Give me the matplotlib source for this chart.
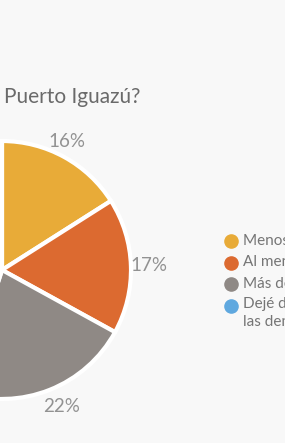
"""Recreate cropped pie chart about visits to Puerto Iguazú."""

import matplotlib.pyplot as plt

# data
categories = [
    "Menos de una vez al año",
    "Al menos una vez al año",
    "Más de una vez al año",
    "Dejé de visitarla en\nlas demás",
]
shares = [16, 17, 22, 45]
colors = ["#E8AB38", "#DC6A30", "#8F8985", "#5FA8DF"]
title = "Puerto Iguazú?"

BG = "#F8F8F8"
W, H = 285, 443

plt.rcParams["font.family"] = ["Lato", "DejaVu Sans"]

fig = plt.figure(figsize=(W / 100, H / 100), dpi=100, facecolor=BG)
ax = fig.add_axes([0, 0, 1, 1])
ax.set_facecolor(BG)

# pie, center sits on the left edge of the crop
wedges, texts, autotexts = ax.pie(
    shares,
    colors=colors,
    center=(2, H - 270),
    radius=129,
    startangle=90,
    counterclock=False,
    autopct="%d%%",
    pctdistance=1.14,
    wedgeprops=dict(edgecolor="white", linewidth=3),
    textprops=dict(color="#929292", fontsize=13.5),
    frame=True,
)
ax.set_xlim(0, W)
ax.set_ylim(0, H)
ax.set_aspect("equal")
ax.axis("off")

# nudge labels a little, as in the source
autotexts[0].set_x(autotexts[0].get_position()[0] - 6)
autotexts[2].set_x(autotexts[2].get_position()[0] + 5)

ax.text(4, H - 97, title, fontsize=15, color="#6A6A6A",
        ha="left", va="center")

# legend drawn by hand
for i, (label, color) in enumerate(zip(categories, colors)):
    y = H - (241 + i * 21.5)
    ax.scatter(231, y, s=90, color=color, zorder=3, clip_on=False)
    ax.text(243, y + 0.5 + (8 if "\n" in label else 0), label, fontsize=11,
            color="#757575", ha="left",
            va="top" if "\n" in label else "center",
            linespacing=1.35)

fig.savefig("out.png", dpi=100, facecolor=BG)
